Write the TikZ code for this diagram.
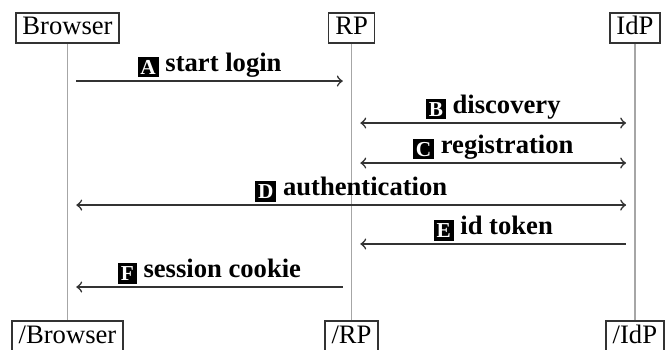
\documentclass[tikz,border=0pt]{standalone}
\usepackage{fontspec}
\setmainfont{Liberation Serif}

\newcommand{\stepmark}[1]{{\setlength{\fboxsep}{1.1pt}\raisebox{-1pt}{\colorbox{black}{\footnotesize\color{white}\rule{0pt}{5.6pt}#1}}}}

\begin{document}
\begin{tikzpicture}[
    party/.style={draw=black!80, semithick, fill=white, inner xsep=2.5pt, inner ysep=1.4pt, text height=6.8pt, text depth=1.7pt},
    lifeline/.style={draw=black!35, semithick},
    msg/.style={draw=black!80, semithick, shorten >=3.3pt, shorten <=3.3pt},
    msglabel/.style={above, inner sep=1pt, font=\bfseries}]
        \useasboundingbox (-0.891,0.370) rectangle (7.967,-4.238);

        \node[party] (browser) {Browser};
        \node[party, right of=browser, xshift=2.75cm] (rp) {RP};
        \node[party, right of=rp, xshift=2.74cm] (idp) {IdP};
        \node[party, below of=browser, yshift=-3.07cm] (browserend) {/Browser};
        \node[party, below of=rp, yshift=-3.07cm] (rpend) {/RP};
        \node[party, below of=idp, yshift=-3.07cm] (idpend) {/IdP};

        % lifelines
        \draw[lifeline] (browser.south) -- (browserend.north);
        \draw[lifeline] (rp.south) -- (rpend.north);
        \draw[lifeline] (idp.south) -- (idpend.north);

        % message heights on each lifeline
        \foreach \m/\y in {A/-0.700, B/-1.254, C/-1.782, D/-2.337, E/-2.851, F/-3.419} {
            \coordinate (b\m) at (browser |- 0,\y);
            \coordinate (r\m) at (rp |- 0,\y);
            \coordinate (i\m) at (idp |- 0,\y);
        }

        \draw[msg, ->] (bA) -- node[msglabel] {\stepmark{A} start login} (rA);
        \draw[msg, <->] (rB) -- node[msglabel] {\stepmark{B} discovery} (iB);
        \draw[msg, <->] (rC) -- node[msglabel] {\stepmark{C} registration} (iC);
        \draw[msg, <->] (bD) -- node[msglabel] {\stepmark{D} authentication} (iD);
        \draw[msg, <-] (rE) -- node[msglabel] {\stepmark{E} id token} (iE);
        \draw[msg, <-] (bF) -- node[msglabel] {\stepmark{F} session cookie} (rF);
      \end{tikzpicture}
\end{document}
